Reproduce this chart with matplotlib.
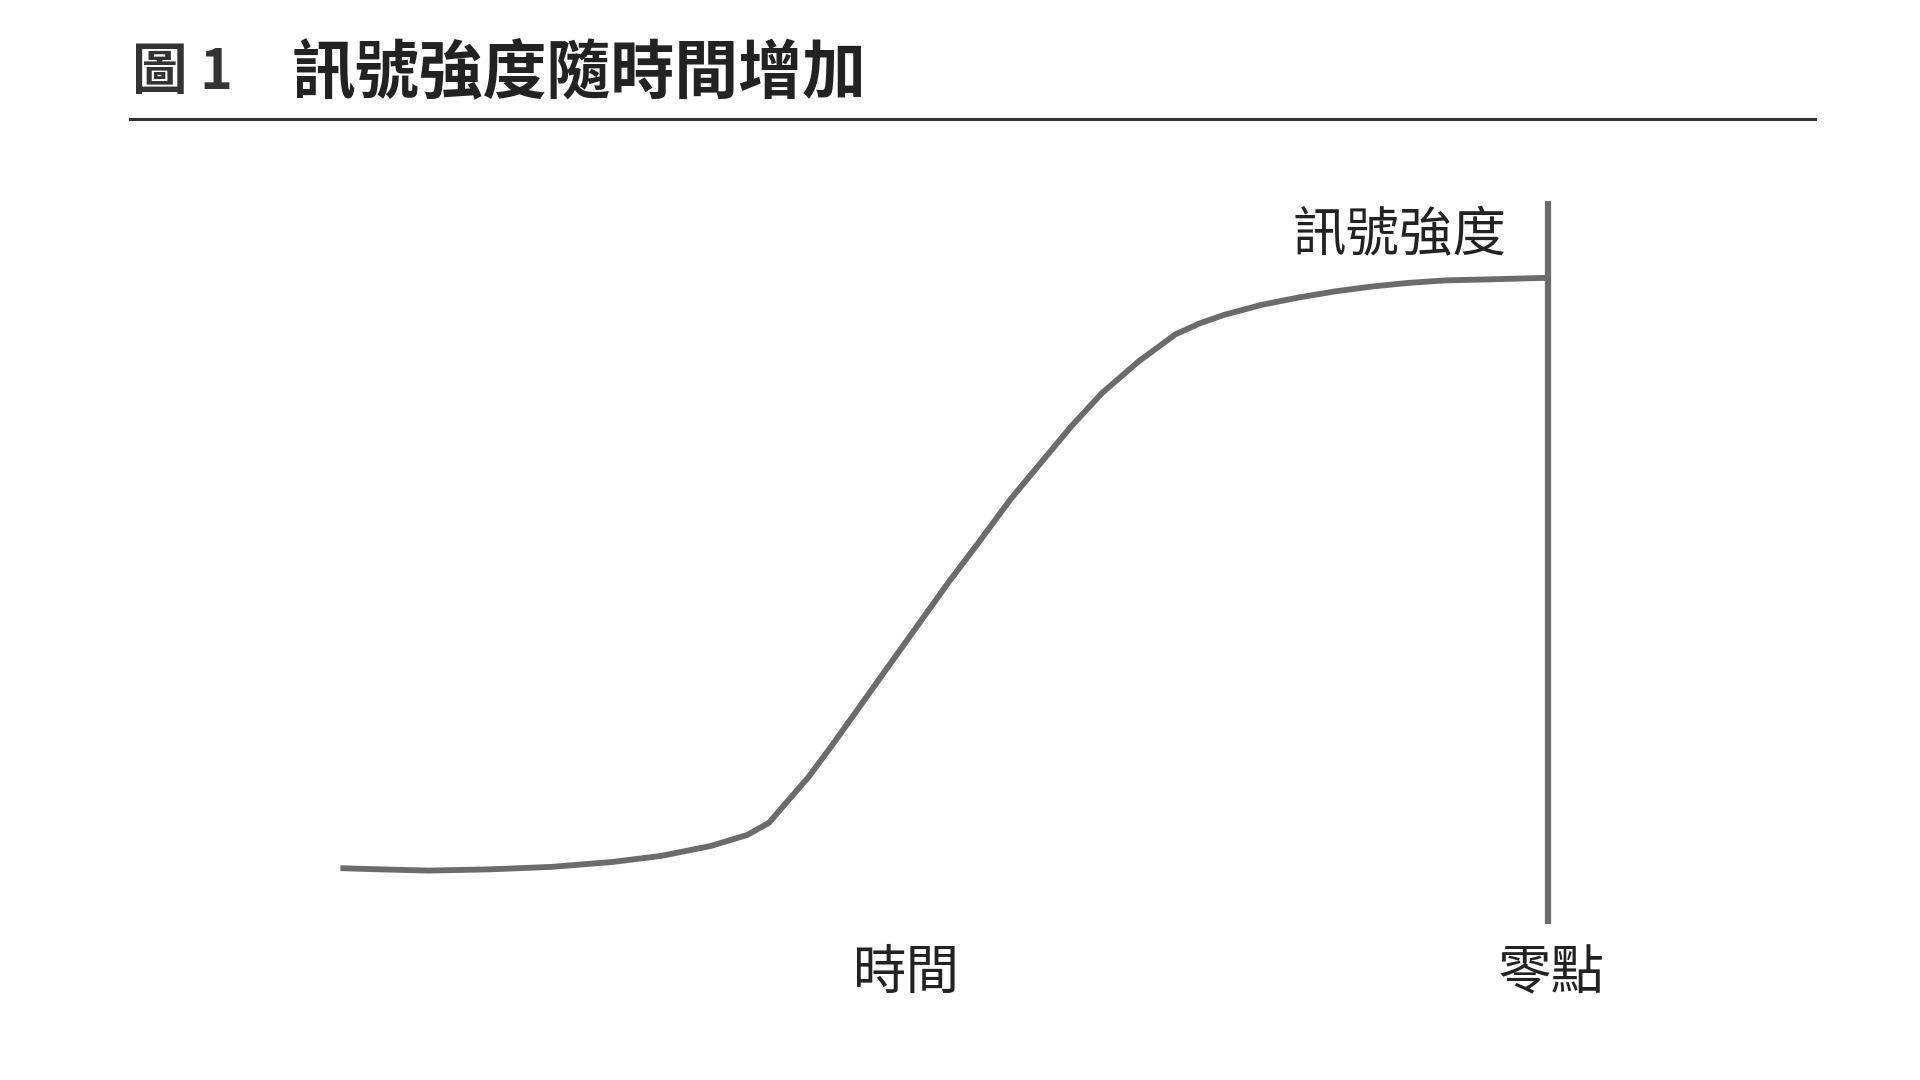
import matplotlib
matplotlib.use("Agg")
import matplotlib.pyplot as plt
from matplotlib.lines import Line2D

plt.rcParams['font.family'] = ['Noto Sans CJK TC', 'DejaVu Sans']

# Data (time 0..100 up to the zero point, signal strength 0..100)
time = [0, 3.25, 7.30, 12.37, 17.44, 22.52, 26.57, 30.63, 33.67, 35.50,
        36.71, 38.74, 40.77, 42.80, 45.33, 47.87, 50.41, 52.94, 55.48, 58.01,
        60.55, 63.08, 66.13, 69.17, 71.20, 73.23, 76.27, 79.31, 82.35, 85.40,
        88.44, 91.48, 95.54, 99.39, 100]
strength = [0.41, 0.21, 0.0, 0.21, 0.62, 1.45, 2.48, 4.13, 5.99, 8.06,
            10.95, 15.70, 21.28, 27.07, 34.30, 41.53, 48.76, 55.58, 62.60, 68.80,
            75.00, 80.58, 85.95, 90.50, 92.36, 93.80, 95.45, 96.69, 97.73, 98.55,
            99.17, 99.59, 99.79, 100, 100]
zero_point = 100
zero_line_span = [-9, 113]

fig_title_num = "圖 1"
fig_title = "訊號強度隨時間增加"
y_label = "訊號強度"
x_label = "時間"
zero_label = "零點"

line_color = "#6b6b6b"
text_color = "#222222"

fig = plt.figure(figsize=(19.2, 10.8), dpi=100)
fig.patch.set_facecolor("white")

ax = fig.add_axes([0.1773, 0.1939, 0.6288, 0.5487])
ax.set_xlim(0, 100)
ax.set_ylim(0, 100)
ax.axis("off")

ax.plot(time, strength, color=line_color, lw=4.2, solid_capstyle="butt",
        solid_joinstyle="round", clip_on=False)
ax.plot([zero_point, zero_point], zero_line_span, color=line_color, lw=4.5,
        solid_capstyle="butt", clip_on=False)

ax.text(96.6, 107.2, y_label, ha="right", va="center", fontsize=38.5,
        color=text_color, fontweight="medium", clip_on=False)
ax.text(46.9, -17.4, x_label, ha="center", va="center", fontsize=38.5,
        color=text_color, fontweight="medium", clip_on=False)
ax.text(100.3, -17.4, zero_label, ha="center", va="center", fontsize=38.5,
        color=text_color, fontweight="medium", clip_on=False)

# Title
fig.text(0.0689, 0.932, fig_title_num, ha="left", va="center", fontsize=40,
         color="#333333", fontweight="bold")
fig.text(0.1518, 0.932, fig_title, ha="left", va="center", fontsize=46,
         color=text_color, fontweight="bold")

# Rule under title
fig.add_artist(Line2D([0.0676, 0.9452], [0.890, 0.890], transform=fig.transFigure,
                      color="#333333", lw=2.2))

fig.savefig("out.png", dpi=100, facecolor="white")
